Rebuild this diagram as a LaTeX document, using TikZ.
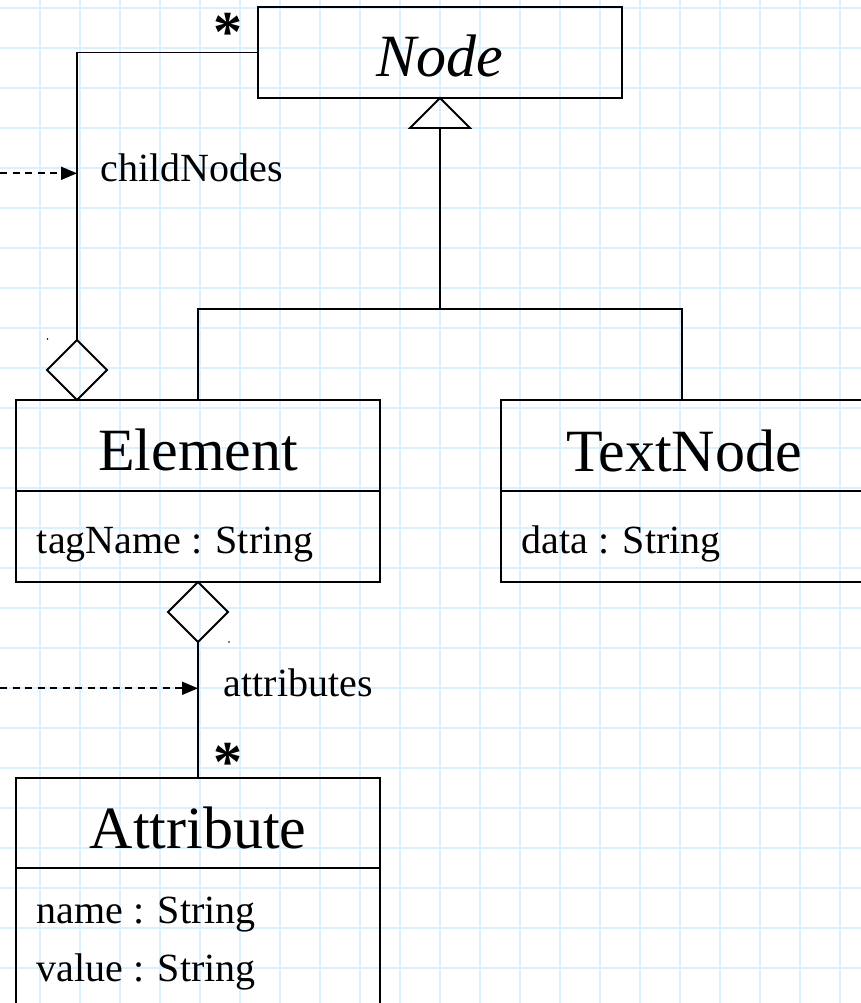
\documentclass[tikz,border=0pt]{standalone}
\usepackage{fontspec}
\setmainfont{Liberation Serif}
\usetikzlibrary{arrows.meta,calc}
\definecolor{gridc}{RGB}{217,241,255}
\begin{document}
\begin{tikzpicture}[x=1pt,y=-1pt, line width=1.8pt,
  box/.style={draw=black, rectangle, inner sep=0pt, outer sep=0pt},
  ttl/.style={inner sep=0pt, anchor=base, font=\fontsize{60}{72}\selectfont},
  attr/.style={inner sep=0pt, anchor=base west, font=\fontsize{40}{48}\selectfont},
  lbl/.style={inner sep=0pt, anchor=base west, font=\fontsize{40}{48}\selectfont},
  mult/.style={inner sep=0pt, anchor=base, font=\fontsize{58}{60}\selectfont\bfseries},
  dep/.style={dash pattern=on 7pt off 5.5pt, line width=1.8pt, -{Triangle[length=16pt,width=13pt]}},
  gridl/.style={draw=gridc, line width=2pt}]
\useasboundingbox (0,0) rectangle (861,1003);
\clip (0,0) rectangle (861,1003);
\fill[white] (0,0) rectangle (861,1003);
\foreach \x in {0,...,21} \draw[gridl] (39.5+40*\x,0) -- (39.5+40*\x,1003);
\foreach \y in {0,...,25} \draw[gridl] (0,8+40*\y) -- (861,8+40*\y);

% class boxes
\node[box, minimum width=364pt, minimum height=91pt] (nnode) at (440,52.5) {};
\node[ttl, font=\fontsize{60}{72}\selectfont\itshape] (tnode) at (440,77) {Node};

\node[box, minimum width=364pt, minimum height=182pt] (nelem) at (198,491) {};
\draw (nelem.west) -- (nelem.east);
\node[ttl] (telem) at (198,470) {Element};
\node[attr] (aelem) at (36,553) {tagName : String};

\node[box, minimum width=362pt, minimum height=182pt] (ntext) at (682,491) {};
\draw (ntext.west) -- (ntext.east);
\node[ttl] (ttext) at (684,471) {TextNode};
\node[attr] (atext) at (521,553) {data : String};

\node[box, minimum width=364pt, minimum height=270pt] (nattr) at (198,913) {};
\draw ($(nattr.north west)+(0,90)$) -- ($(nattr.north east)+(0,90)$);
\node[ttl] (tattr) at (198,848) {Attribute};
\node[attr] (aname) at (36,923) {name : String};
\node[attr] (avalue) at (36,981) {value : String};

% generalization
\coordinate (hub) at (440,309);
\coordinate (trib) at ($(nnode.south)+(0,30)$);
\draw (nnode.south) -- ++(-30,30) -- ++(60,0) -- cycle;
\draw (trib) -- (hub);
\draw (nelem.north) |- (hub) -| (ntext.north);

% aggregation childNodes
\coordinate (d1b) at ($(nelem.north west)+(61,0)$);
\draw (d1b) -- ++(30,-30) -- ++(-30,-30) -- ++(-30,30) -- cycle;
\coordinate (d1t) at ($(d1b)+(0,-60)$);
\draw (d1t) |- (nnode.west);
\node[mult] (m1) at (228,52) {*};

% aggregation attributes
\coordinate (d2t) at (nelem.south);
\draw (d2t) -- ++(30,30) -- ++(-30,30) -- ++(-30,-30) -- cycle;
\coordinate (d2b) at ($(d2t)+(0,60)$);
\draw (d2b) -- (nattr.north);
\node[mult] (m2) at (228,781) {*};

% dependency arrows
\coordinate (c1s) at (0,173.3);
\coordinate (c1e) at (77,173.3);
\draw[dep] (c1s) -- (c1e);
\node[lbl] (lc) at (100,182) {childNodes};
\coordinate (c2s) at (0,688.3);
\coordinate (c2e) at (198,688.3);
\draw[dep] (c2s) -- (c2e);
\node[lbl] (la) at (223,696) {attributes};

% tiny marks
\fill (47.5,339) circle (0.9pt);
\fill (229,642) circle (0.9pt);
\end{tikzpicture}
\end{document}
